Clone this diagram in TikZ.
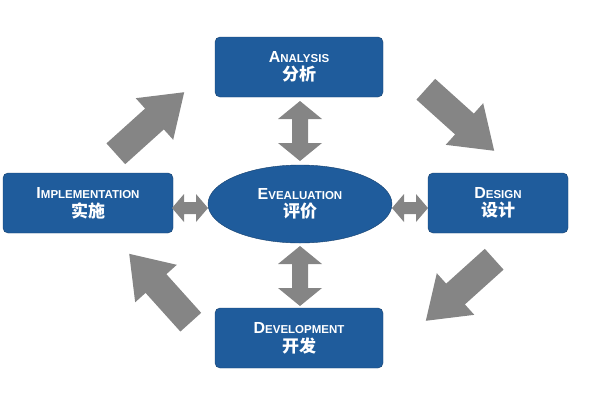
\documentclass[tikz,border=0pt]{standalone}
\usepackage{fontspec}
\setmainfont{Liberation Sans}
\newfontfamily\cjk{Noto Sans CJK SC}
\usetikzlibrary{shapes.geometric}
\definecolor{boxblue}{HTML}{1F5C9C}
\definecolor{arrgray}{HTML}{858585}
\newcommand{\capt}[2]{\textbf{{\fontsize{16}{16}\selectfont #1}{\fontsize{11.5}{12}\selectfont #2}}}
\newcommand{\cjt}[1]{{\cjk\bfseries\fontsize{17}{20}\selectfont #1}}
\tikzset{
  box/.style={fill=boxblue,draw=boxblue!70!black,rounded corners=5pt,text=white,align=center,minimum width=168pt,minimum height=60pt,inner sep=0pt},
  evl/.style={ellipse,fill=boxblue,draw=boxblue!70!black,text=white,align=center,minimum width=184pt,minimum height=78pt,inner sep=0pt},
  bigarrow/.pic={\fill[arrgray] (-46,-14) -- (6,-14) -- (6,-28) -- (46,0) -- (6,28) -- (6,14) -- (-46,14) -- cycle;},
  dblv/.pic={\fill[arrgray] (0,-30) -- (22,-12) -- (8,-12) -- (8,12) -- (22,12) -- (0,30) -- (-22,12) -- (-8,12) -- (-8,-12) -- (-22,-12) -- cycle;},
  dblh/.pic={\fill[arrgray] (-18,0) -- (-6,-14) -- (-6,-6) -- (6,-6) -- (6,-14) -- (18,0) -- (6,14) -- (6,6) -- (-6,6) -- (-6,14) -- cycle;}
}
\begin{document}
\begin{tikzpicture}[x=1pt,y=-1pt]
\useasboundingbox (0,0) rectangle (600,400);
\node[box] (a) at (299,67) {\capt{A}{NALYSIS}\\[3pt]\cjt{分析}};
\node[box,minimum width=140pt] (d) at (498,203) {\capt{D}{ESIGN}\\[3pt]\cjt{设计}};
\node[box] (v) at (299,338) {\capt{D}{EVELOPMENT}\\[3pt]\cjt{开发}};
\node[box,minimum width=170pt] (i) at (88,203) {\capt{I}{MPLEMENTATION}\\[3pt]\cjt{实施}};
\node[evl] (e) at (300,204) {\capt{E}{VEALUATION}\\[3pt]\cjt{评价}};
\pic at (300,131) {dblv};
\pic at (300,276) {dblv};
\pic at (190,208) {dblh};
\pic at (410,208) {dblh};
\pic[rotate=-42] at (460,120) {bigarrow};
\pic[rotate=-138] at (460,290) {bigarrow};
\pic[rotate=132] at (160,288) {bigarrow};
\pic[rotate=42] at (150,123) {bigarrow};
\end{tikzpicture}
\end{document}
